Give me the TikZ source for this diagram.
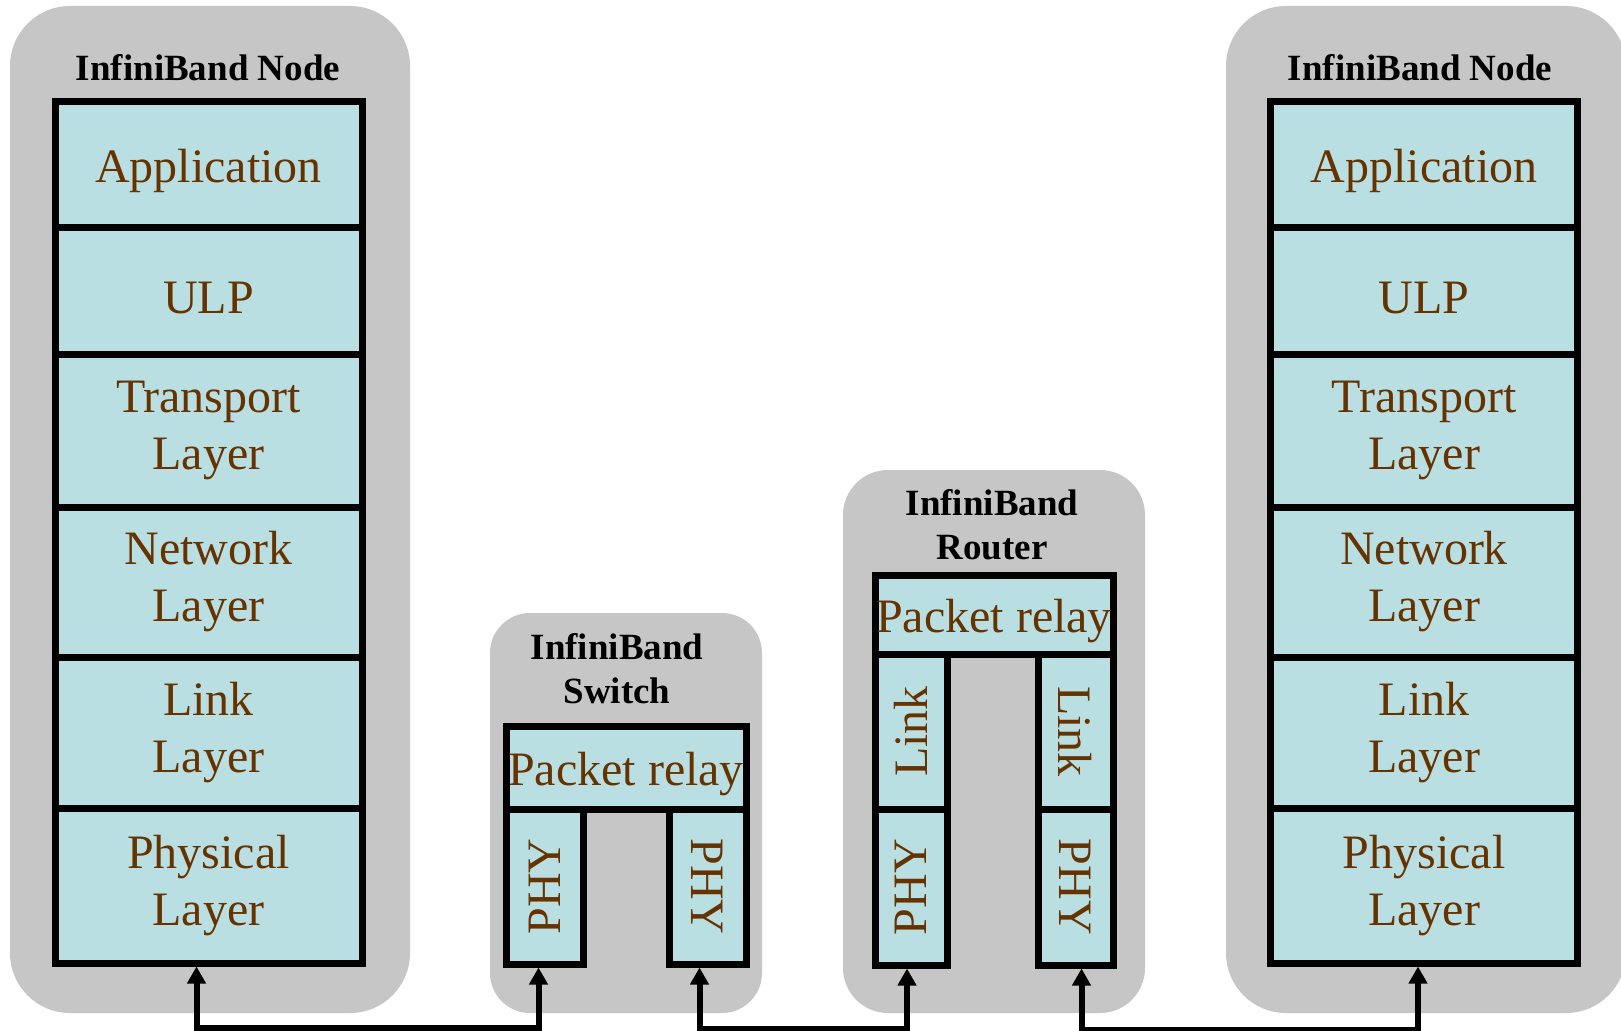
\documentclass[tikz,border=0pt]{standalone}
\usepackage{fontspec}
\setmainfont{Liberation Serif}
\usepackage{graphicx}
\usepackage{tikz}
\usetikzlibrary{arrows.meta}

\definecolor{grpgray}{RGB}{198,198,198}
\definecolor{layfill}{RGB}{185,223,227}
\definecolor{laytext}{RGB}{102,51,0}

\begin{document}
\begin{tikzpicture}[x=1pt,y=-1pt,
  grp/.style={fill=grpgray,rounded corners=60pt,inner sep=0pt},
  box/.style={draw,line width=7pt,fill=layfill,text=laytext,inner sep=0pt,align=center,font=\fontsize{48}{57}\selectfont},
  lay/.style={box,execute at begin node={\rule{0pt}{47pt}}},
  ttl/.style={align=center,font=\fontsize{37}{44}\selectfont\bfseries},
  arr/.style={{Triangle[length=17pt,width=18pt]}-{Triangle[length=17pt,width=18pt]},line width=6pt}]
\useasboundingbox (0,0) rectangle (1621,1030);
% grey groups
\node[grp,minimum width=400pt,minimum height=1007pt] (lnode) at (210,509.5) {};
\node[grp,minimum width=400pt,minimum height=1007pt] (rnode) at (1426,509.5) {};
\node[grp,rounded corners=40pt,minimum width=272pt,minimum height=400pt] (sw) at (626,813) {};
\node[grp,rounded corners=45pt,minimum width=302pt,minimum height=543pt] (rt) at (994,741.5) {};
\node[ttl] (lttl) at (208,68) {InfiniBand Node};
\node[ttl] (rttl) at (1420,68) {InfiniBand Node};
\node[ttl] (swttl) at (617,669) {InfiniBand\\Switch};
\node[ttl] (rtttl) at (992,525) {InfiniBand\\Router};
% left node stack
\node[lay,minimum width=307pt,minimum height=125pt] (lapp) at (208.5,164.5) {Application};
\node[lay,minimum width=307pt,minimum height=127pt] (lulp) at (208.5,290.5) {ULP};
\node[lay,minimum width=307pt,minimum height=153pt] (ltra) at (208.5,430.5) {Transport\\Layer};
\node[lay,minimum width=307pt,minimum height=150pt] (lnet) at (208.5,582) {Network\\Layer};
\node[lay,minimum width=307pt,minimum height=151pt] (llnk) at (208.5,732.5) {Link\\Layer};
\node[lay,minimum width=307pt,minimum height=155pt] (lphy) at (208.5,885.5) {Physical\\Layer};
% right node stack
\node[lay,minimum width=307pt,minimum height=125pt] (rapp) at (1424,164.5) {Application};
\node[lay,minimum width=307pt,minimum height=127pt] (rulp) at (1424,290.5) {ULP};
\node[lay,minimum width=307pt,minimum height=153pt] (rtra) at (1424,430.5) {Transport\\Layer};
\node[lay,minimum width=307pt,minimum height=150pt] (rnet) at (1424,582) {Network\\Layer};
\node[lay,minimum width=307pt,minimum height=151pt] (rlnk) at (1424,732.5) {Link\\Layer};
\node[lay,minimum width=307pt,minimum height=155pt] (rphy) at (1424,885.5) {Physical\\Layer};
% switch
\node[box,minimum width=77pt,minimum height=155pt] (swphyl) at (544.5,886.5) {\rotatebox{90}{PHY}};
\node[box,minimum width=77pt,minimum height=155pt] (swphyr) at (707.5,886.5) {\rotatebox{-90}{PHY}};
\node[lay,minimum width=240pt,minimum height=83pt] (swrel) at (626,767.5) {Packet relay};
% router
\node[box,minimum width=72pt,minimum height=155pt] (rtlnkl) at (911,731.5) {\rotatebox{90}{Link}};
\node[box,minimum width=72pt,minimum height=156pt] (rtphyl) at (911,887) {\rotatebox{90}{PHY}};
\node[box,minimum width=75pt,minimum height=155pt] (rtlnkr) at (1075.5,731.5) {\rotatebox{-90}{Link}};
\node[box,minimum width=75pt,minimum height=156pt] (rtphyr) at (1075.5,887) {\rotatebox{-90}{PHY}};
\node[lay,minimum width=238pt,minimum height=79pt] (rtrel) at (994,614.5) {Packet relay};
% physical links
\draw[arr] ([xshift=-12pt]lphy.south) -- ++(0,61) -| ([xshift=-6pt]swphyl.south);
\draw[arr] ([xshift=-8pt]swphyr.south) -- ++(0,61) -| ([xshift=-4pt]rtphyl.south);
\draw[arr] ([xshift=6pt]rtphyr.south) -- ++(0,61) -| ([xshift=-6pt]rphy.south);
\end{tikzpicture}
\end{document}
